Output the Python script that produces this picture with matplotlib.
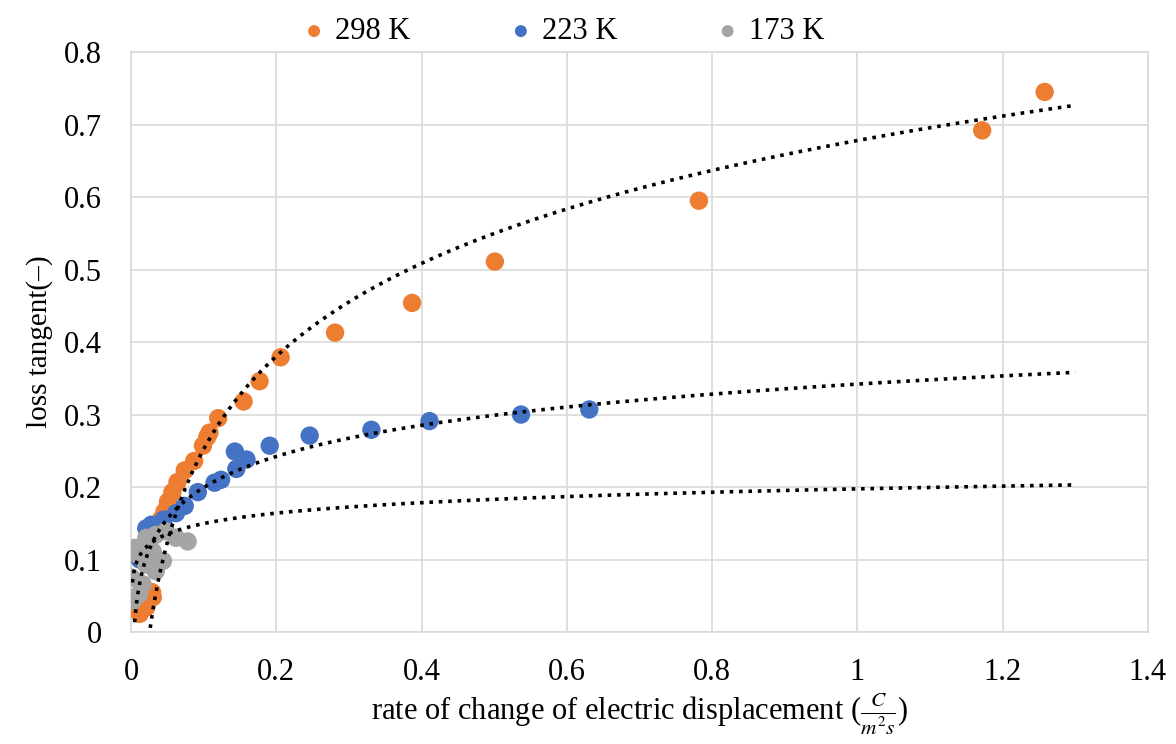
import numpy as np
import matplotlib
matplotlib.use("Agg")
import matplotlib.pyplot as plt

# valores
x_298 = [1.258, 1.172, 0.782, 0.501, 0.387, 0.281, 0.206, 0.177, 0.155, 0.120,
         0.108, 0.105, 0.099, 0.087, 0.074, 0.064, 0.057, 0.051, 0.046, 0.041,
         0.036, 0.030, 0.029, 0.021, 0.012]
y_298 = [0.745, 0.692, 0.595, 0.511, 0.454, 0.413, 0.379, 0.346, 0.318, 0.295,
         0.275, 0.269, 0.257, 0.236, 0.223, 0.207, 0.193, 0.180, 0.166, 0.155,
         0.140, 0.048, 0.055, 0.034, 0.025]

x_223 = [0.631, 0.537, 0.411, 0.331, 0.246, 0.191, 0.159, 0.143, 0.145, 0.124,
         0.115, 0.092, 0.074, 0.062, 0.045, 0.028, 0.021, 0.012]
y_223 = [0.307, 0.300, 0.291, 0.279, 0.271, 0.257, 0.238, 0.249, 0.225, 0.210,
         0.206, 0.193, 0.174, 0.164, 0.155, 0.148, 0.143, 0.100]

x_173 = [0.078, 0.062, 0.048, 0.034, 0.021, 0.005, 0.044, 0.034, 0.016, 0.011,
         0.002, 0.001, 0.009, 0.030, 0.021]
y_173 = [0.125, 0.130, 0.139, 0.134, 0.130, 0.116, 0.098, 0.084, 0.066, 0.052,
         0.043, 0.075, 0.107, 0.111, 0.093]

# líneas de tendencia logarítmicas y = a*ln(x) + b (estimadas del gráfico)
tendencias = {
    '298 K': (0.185, 0.678, 0.02),
    '223 K': (0.062, 0.342, 0.005),
    '173 K': (0.0208, 0.1975, 0.002),
}
x_fin = 1.3

series = [('298 K', x_298, y_298, '#ED7D31'),
          ('223 K', x_223, y_223, '#4472C4'),
          ('173 K', x_173, y_173, '#A5A5A5')]

plt.rcParams['font.family'] = ['Liberation Serif', 'DejaVu Serif']
plt.rcParams['mathtext.fontset'] = 'stix'

fig = plt.figure(figsize=(11.76, 7.44), dpi=100)
ax = fig.add_axes([0.1114, 0.1505, 0.8646, 0.7795])

for nombre, xs, ys, color in series:
    ax.scatter(xs, ys, s=175, color=color, label=nombre, zorder=3,
               edgecolors='none')

for nombre, xs, ys, color in series:
    a, b, x0 = tendencias[nombre]
    xt = np.geomspace(x0, x_fin, 300)
    ax.plot(xt, a * np.log(xt) + b, color='black', lw=2.6,
            linestyle=(0, (1, 1.6)), zorder=4)

ax.set_xlim(0, 1.4)
ax.set_ylim(0, 0.8)
ax.set_xticks(np.arange(0, 1.41, 0.2))
ax.set_yticks(np.arange(0, 0.81, 0.1))
ax.set_xticklabels(['0', '0.2', '0.4', '0.6', '0.8', '1', '1.2', '1.4'])
ax.set_yticklabels(['0', '0.1', '0.2', '0.3', '0.4', '0.5', '0.6', '0.7', '0.8'])
ax.tick_params(labelsize=22, length=0)
ax.tick_params(axis='x', pad=19)
ax.tick_params(axis='y', pad=21)
ax.grid(True, color='#D9D9D9', lw=1.2)
ax.set_axisbelow(True)
for sp in ax.spines.values():
    sp.set_color('#D9D9D9')
    sp.set_linewidth(1.2)

ax.set_ylabel('loss tangent(–)', fontsize=21, labelpad=8)
ax.set_xlabel(r'rate of change of electric displacement ($\frac{C}{m^2s}$)',
              fontsize=22, labelpad=2)

ax.legend(loc='lower center', bbox_to_anchor=(0.425, 1.005), ncol=3, frameon=False,
          fontsize=22, markerscale=0.65, handlelength=0.8, handletextpad=0.3,
          columnspacing=3.2, borderaxespad=0.0, borderpad=0.1)

fig.savefig('out.png', dpi=100)
